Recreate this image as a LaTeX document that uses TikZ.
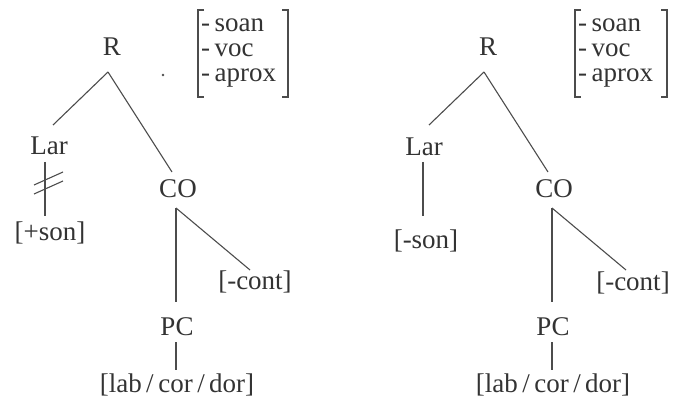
\documentclass[tikz,border=0pt]{standalone}
\usepackage{fontspec}
\setmainfont{Liberation Serif}
\usepackage{tikz}

\begin{document}
\begin{tikzpicture}[
    x=1pt,
    y=-1pt,
    lbl/.style={font=\fontsize{27}{25}\selectfont, text=black!80, inner sep=0pt},
    edge/.style={draw=black!70, line width=1.1pt},
]

% Frame
\useasboundingbox (0,0) rectangle (675,401);

% ---------- Left tree ----------

% Nodes
\node[lbl] (Ra) at (112,47) {R};
\node[lbl] (Lara) at (49,146) {Lar};
\node[lbl] (sona) at (50,233) {[+son]};
\node[lbl] (COa) at (178,189) {CO};
\node[lbl] (conta) at (255,282) {[-cont]};
\node[lbl] (PCa) at (177,327) {PC};
\node[lbl] (placea) at (177,385) {[lab\,/\,cor\,/\,dor]};

% Feature matrix
\node[lbl, anchor=west, align=left] (feata) at (201,53)
  {-\,soan\\-\,voc\\-\,aprox};
\draw[edge] (204,10) -- (198,10) -- (198,97) -- (204,97);
\draw[edge] (282,10) -- (288,10) -- (288,97) -- (282,97);
\fill[black!70] (163,75) circle (1.3pt);

% Branches
\coordinate (Ra-top) at (108,72);
\coordinate (COa-top) at (176,208);
\draw[edge] (Ra-top) -- (53,125);
\draw[edge] (Ra-top) -- (172,172);
\draw[edge] (45,162) -- (45,216);
\draw[edge] (COa-top) -- (176,302);
\draw[edge] (COa-top) -- (250,270);
\draw[edge] (176,342) -- (176,370);

% Delinking marks
\draw[edge] (34,185) -- (63,172);
\draw[edge] (34,194) -- (63,181);

% ---------- Right tree ----------

\begin{scope}[shift={(376,0)}]

% Nodes
\node[lbl] (Rb) at (112,47) {R};
\node[lbl] (Larb) at (48,147) {Lar};
\node[lbl] (sonb) at (50,241) {[-son]};
\node[lbl] (COb) at (178,189) {CO};
\node[lbl] (contb) at (257,283) {[-cont]};
\node[lbl] (PCb) at (177,327) {PC};
\node[lbl] (placeb) at (177,385) {[lab\,/\,cor\,/\,dor]};

% Feature matrix
\node[lbl, anchor=west, align=left] (featb) at (202,53)
  {-\,soan\\-\,voc\\-\,aprox};
\draw[edge] (205,10) -- (199,10) -- (199,97) -- (205,97);
\draw[edge] (285,10) -- (291,10) -- (291,97) -- (285,97);

% Branches
\coordinate (Rb-top) at (108,72);
\coordinate (COb-top) at (176,208);
\draw[edge] (Rb-top) -- (53,125);
\draw[edge] (Rb-top) -- (172,172);
\draw[edge] (47,162) -- (47,216);
\draw[edge] (COb-top) -- (176,302);
\draw[edge] (COb-top) -- (250,270);
\draw[edge] (176,342) -- (176,370);

\end{scope}

\end{tikzpicture}
\end{document}
